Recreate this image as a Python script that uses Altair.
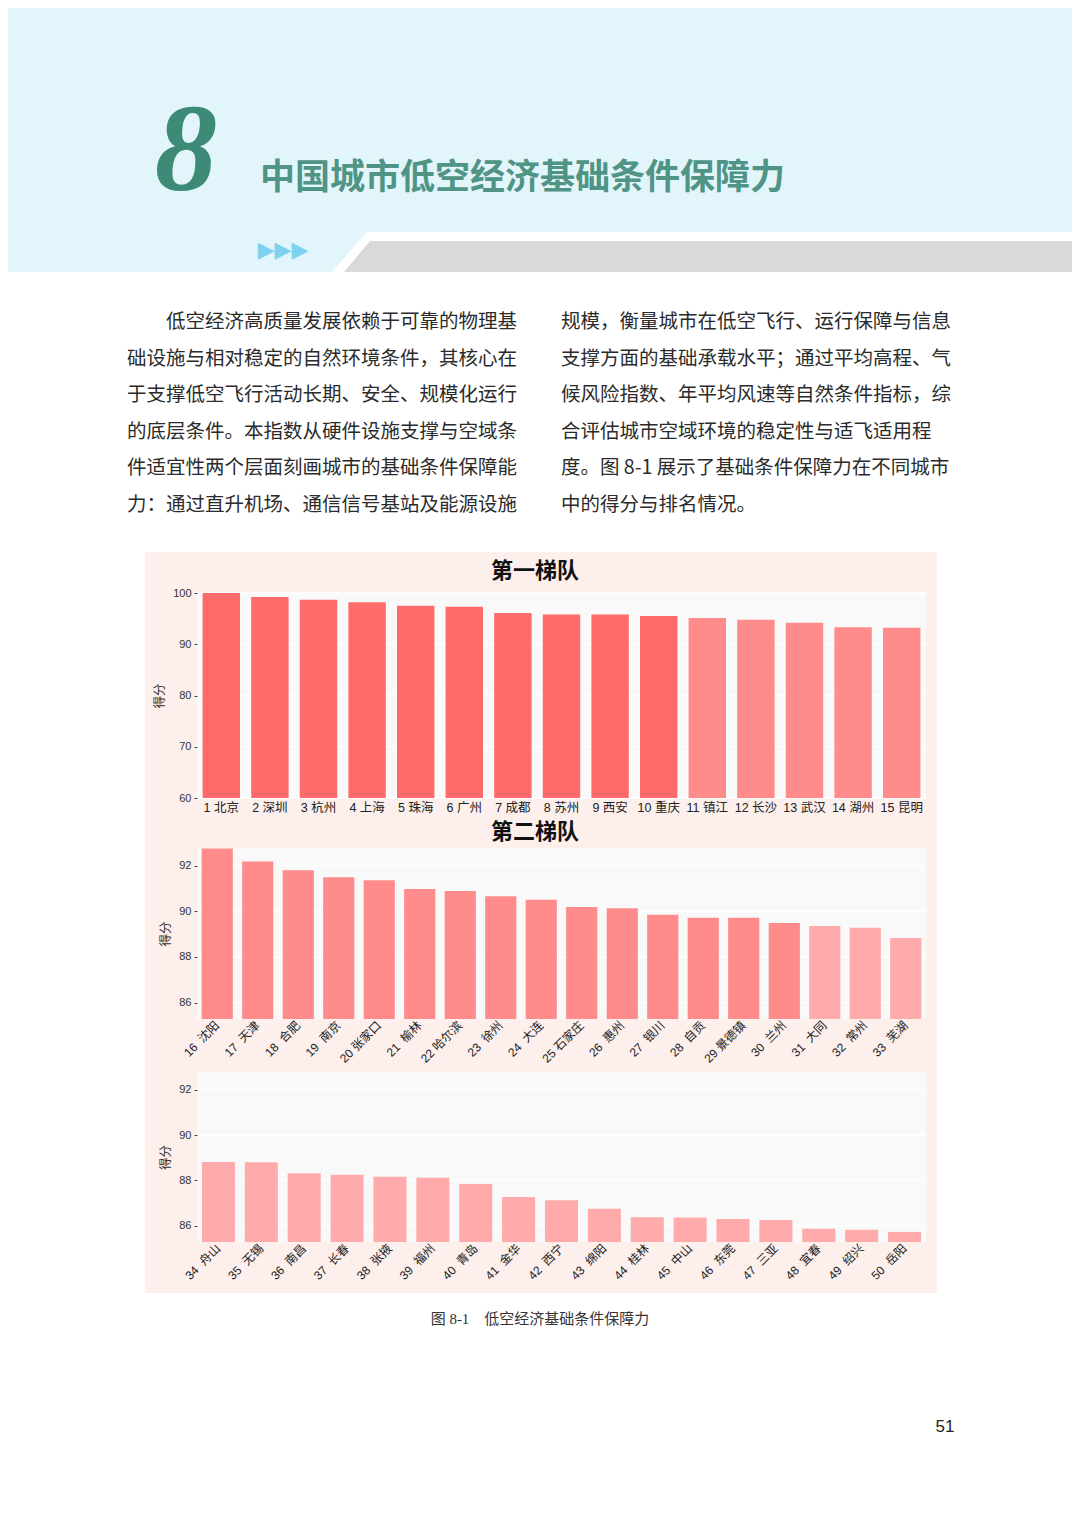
import altair as alt
import pandas as pd

# ---------------- data ----------------
tier1_names = ["北京", "深圳", "杭州", "上海", "珠海", "广州", "成都", "苏州", "西安", "重庆",
               "镇江", "长沙", "武汉", "湖州", "昆明"]
tier1_scores = [100.0, 99.2, 98.7, 98.2, 97.5, 97.3, 96.1, 95.8, 95.8, 95.5,
                95.1, 94.8, 94.2, 93.3, 93.2]

tier2_names = ["沈阳", "天津", "合肥", "南京", "张家口", "榆林", "哈尔滨", "徐州", "大连",
               "石家庄", "惠州", "银川", "自贡", "景德镇", "兰州", "大同", "常州", "芜湖"]
tier2_scores = [92.76, 92.19, 91.80, 91.50, 91.37, 90.98, 90.89, 90.66, 90.51,
                90.19, 90.14, 89.85, 89.72, 89.72, 89.49, 89.36, 89.28, 88.83]

tier3_names = ["舟山", "无锡", "南昌", "长春", "张掖", "福州", "青岛", "金华", "西宁",
               "绵阳", "桂林", "中山", "东莞", "三亚", "宜春", "绍兴", "岳阳"]
tier3_scores = [88.81, 88.80, 88.31, 88.25, 88.16, 88.12, 87.84, 87.27, 87.12,
                86.75, 86.37, 86.36, 86.30, 86.25, 85.87, 85.82, 85.72]

ticks_p1 = [60, 70, 80, 90, 100]
ticks_p23 = [86, 88, 90, 92]

chapter_no = "8"
chapter_title = "中国城市低空经济基础条件保障力"
left_lines = [
    "低空经济高质量发展依赖于可靠的物理基",
    "础设施与相对稳定的自然环境条件，其核心在",
    "于支撑低空飞行活动长期、安全、规模化运行",
    "的底层条件。本指数从硬件设施支撑与空域条",
    "件适宜性两个层面刻画城市的基础条件保障能",
    "力：通过直升机场、通信信号基站及能源设施",
]
left_indent = [2, 0, 0, 0, 0, 0]
right_lines = [
    "规模，衡量城市在低空飞行、运行保障与信息",
    "支撑方面的基础承载水平；通过平均高程、气",
    "候风险指数、年平均风速等自然条件指标，综",
    "合评估城市空域环境的稳定性与适飞适用程",
    "度。图 8-1 展示了基础条件保障力在不同城市",
    "中的得分与排名情况。",
]
right_indent = [0, 0, 0, 0, 0, 0]
panel_titles = ["第一梯队", "第二梯队"]
caption = "图 8-1\u3000低空经济基础条件保障力"
page_no = "51"

# ---------------- style ----------------
FONT = "Liberation Sans, Noto Sans CJK SC"
CJK = "Noto Sans CJK SC"
PINK = "#fcefec"
PLOT_BG = "#f9f9f9"
BAR_COLORS = ["#ff6b6b", "#ff8b8b", "#ffabab"]
BLUE = "#e2f5fb"
GRAY = "#d9d9d9"
ARROW = "#7fd2ee"
TEAL = "#3d8a76"
TEAL2 = "#4f9485"
TXT = "#2b2b2b"
W = 729


def deco():
    return alt.Chart(alt.Data(values=[{"k": 0}]))


def tier_of(rank):
    return "A" if rank <= 10 else ("B" if rank <= 30 else "C")


def make_df(names, scores, start, rotated):
    rows = []
    for i, (n, s) in enumerate(zip(names, scores)):
        r = start + i
        if rotated:
            sep = "\u00a0\u00a0" if len(n) == 2 else "\u00a0"
        else:
            sep = " "
        rows.append({"label": f"{r}{sep}{n}", "score": s, "tier": tier_of(r)})
    return pd.DataFrame(rows)


def panel(df, lo, hi, ticks, height, angle, title_text, title_y, rect_top, rect_bottom):
    order = list(df["label"])
    pink = deco().mark_rect(color=PINK).encode(
        x=alt.value(-52), x2=alt.value(740), y=alt.value(rect_top), y2=alt.value(rect_bottom))
    bg = deco().mark_rect(color=PLOT_BG).encode(
        x=alt.value(0), x2=alt.value(W), y=alt.value(0), y2=alt.value(height))
    grid = alt.Chart(pd.DataFrame({"g": ticks})).mark_rule(color="white", strokeWidth=1.3).encode(
        y=alt.Y("g:Q", scale=alt.Scale(domain=[lo, hi], nice=False, zero=False), axis=None))
    if angle == 0:
        xaxis = alt.Axis(title=None, labelAngle=0, ticks=False, domain=False, labelPadding=3,
                         labelFont=FONT, labelFontSize=12.5, labelColor="#222",
                         labelOverlap=False, zindex=1)
    else:
        xaxis = alt.Axis(title=None, labelAngle=-45, labelAlign="right", labelBaseline="middle",
                         ticks=False, domain=False, labelPadding=4,
                         labelFont=FONT, labelFontSize=12, labelColor="#222",
                         labelOverlap=False, zindex=1)
    bars = alt.Chart(df).mark_bar().encode(
        x=alt.X("label:N", sort=order,
                scale=alt.Scale(paddingInner=0.23, paddingOuter=0.115), axis=xaxis),
        y=alt.Y("score:Q", scale=alt.Scale(domain=[lo, hi], nice=False, zero=False),
                axis=alt.Axis(title="得分", values=ticks, domain=False, ticks=True, tickSize=3,
                              tickColor="#444", labelPadding=3, labelFont=FONT,
                              labelFontSize=11, labelColor="#333", titleFont=CJK,
                              titleFontSize=12.5, titleFontWeight="normal", titleColor="#333",
                              titlePadding=6, grid=False, zindex=1)),
        y2=alt.Y2(datum=lo),
        color=alt.Color("tier:N", scale=alt.Scale(domain=["A", "B", "C"], range=BAR_COLORS),
                        legend=None),
    )
    layers = [pink, bg, grid, bars]
    if title_text:
        layers.append(deco().mark_text(text=title_text, font=CJK, fontWeight="bold",
                                       fontSize=22, color="#111", align="center",
                                       baseline="middle").encode(
            x=alt.value(338), y=alt.value(title_y)))
    return alt.layer(*layers).resolve_scale(y="independent").properties(width=W, height=height)


# ---------------- header ----------------
WHITE_PATH = "M -1 0.0541 L -0.9054 -0.0541 L 1 -0.0541 L 1 0.0541 Z"
GRAY_PATH = "M -1 0.0426 L -0.9286 -0.0426 L 1 -0.0426 L 1 0.0426 Z"

blue = deco().mark_rect(color=BLUE).encode(
    x=alt.value(-189), x2=alt.value(875), y=alt.value(0), y2=alt.value(264))
white_shape = deco().mark_point(shape=WHITE_PATH, filled=True, color="white", opacity=1,
                                size=547600, strokeOpacity=0).encode(
    x=alt.value(505), y=alt.value(244))
gray_shape = deco().mark_point(shape=GRAY_PATH, filled=True, color=GRAY, opacity=1,
                               size=529984, strokeOpacity=0).encode(
    x=alt.value(511), y=alt.value(248.5))
arrows = deco().mark_text(text="▶▶▶", font="DejaVu Sans", fontSize=22, color=ARROW,
                          align="center", baseline="middle").encode(
    x=alt.value(86), y=alt.value(242))
chap = deco().mark_text(text=chapter_no, font="Liberation Serif", fontStyle="italic",
                        fontWeight="bold", fontSize=125, color=TEAL, align="center",
                        baseline="alphabetic").encode(x=alt.value(-11), y=alt.value(182))
htitle = deco().mark_text(text=chapter_title, font=CJK, fontWeight="bold", fontSize=35,
                          color=TEAL2, align="left", baseline="middle").encode(
    x=alt.value(63), y=alt.value(170))

row_scale = alt.Scale(domain=[0, 5], range=[314, 497])
FS = 19.5


def para(lines, indent, x0):
    d = pd.DataFrame({"row": list(range(len(lines))), "line": lines, "indent": indent})
    return alt.Chart(d).mark_text(
        font=CJK, fontSize=FS, color=TXT, align="left", baseline="middle").encode(
        x=alt.X("indent:Q", scale=alt.Scale(domain=[0, 2], range=[x0, x0 + 2 * FS]), axis=None),
        y=alt.Y("row:Q", scale=row_scale, axis=None), text="line:N")


left_txt = para(left_lines, left_indent, -70)
right_txt = para(right_lines, right_indent, 364)

header = alt.layer(blue, white_shape, gray_shape, arrows, chap, htitle, left_txt
                   ).properties(width=W, height=544)
header = alt.layer(header, right_txt).resolve_scale(x="independent").properties(width=W, height=544)

# ---------------- panels ----------------
p1 = panel(make_df(tier1_names, tier1_scores, 1, False), 60, 100, ticks_p1, 205, 0,
           panel_titles[0], -22, -41, 227)
p2 = panel(make_df(tier2_names, tier2_scores, 16, True), 85.28, 92.78, ticks_p23, 171, -45,
           panel_titles[1], -16, -28, 220)
p3 = panel(make_df(tier3_names, tier3_scores, 34, True), 85.28, 92.78, ticks_p23, 170, -45,
           None, 0, -4, 221)

# ---------------- caption ----------------
cap = deco().mark_text(text=caption, font="Liberation Serif, Noto Sans CJK SC", fontSize=15,
                       color="#333", align="center", baseline="middle").encode(
    x=alt.value(343), y=alt.value(26))
pg = deco().mark_text(text=page_no, font="Liberation Sans", fontSize=17, color="#222",
                      align="center", baseline="middle").encode(
    x=alt.value(748), y=alt.value(134))
footer = alt.layer(cap, pg).properties(width=W, height=212)

chart = alt.vconcat(header, p1, p2, p3, footer, spacing=0).properties(
    padding=0, background="white").configure_view(stroke=None)

chart.save("out.html", embed_options={"renderer": "svg", "actions": False})
